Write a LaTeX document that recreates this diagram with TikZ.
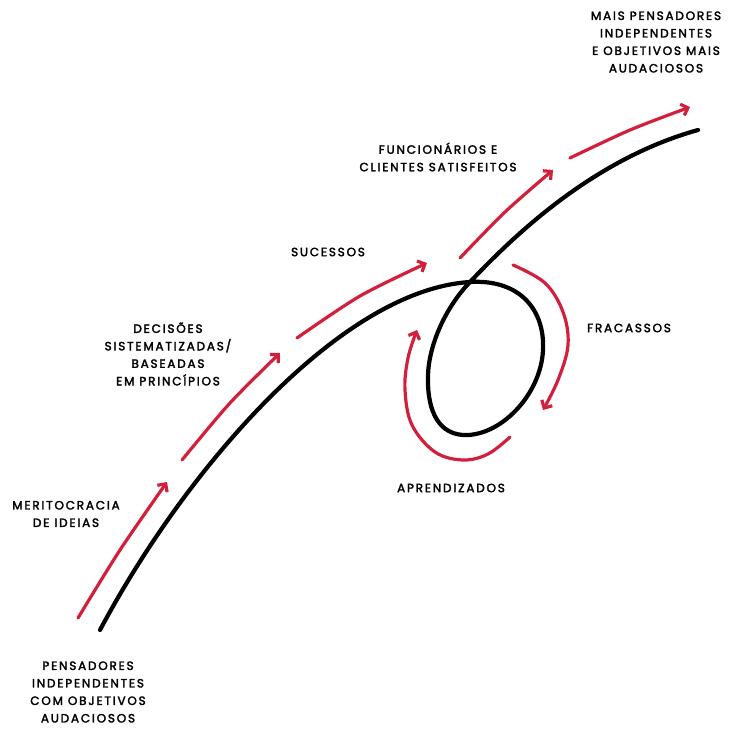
\documentclass[tikz,border=0pt]{standalone}
\usepackage{fontspec}
\setmainfont{Poppins}[LetterSpace=15, FakeBold=2.4]
\usetikzlibrary{arrows.meta}
\definecolor{redline}{HTML}{D21F3C}
\begin{document}
\begin{tikzpicture}[x=1pt,y=-1pt,
  blackline/.style={line width=4.2pt, line cap=round, line join=round},
  redarrow/.style={draw=redline, line width=3.2pt, line cap=round, line join=round,
    -{Straight Barb[length=6pt,width=12pt]}},
  lbl/.style={align=center, font=\fontsize{12}{17.5}\selectfont, inner sep=0pt}]
\useasboundingbox (0,0) rectangle (731,734);

% main black curve with loop
\draw[blackline] (100,630) .. controls (185,470) and (340,290) .. (470,282)
  .. controls (520,279) and (545,310) .. (543,350)
  .. controls (541,395) and (500,437) .. (463,435)
  .. controls (435,433) and (427,405) .. (428,375)
  .. controls (429,345) and (445,308) .. (470,282)
  .. controls (510,240) and (590,160) .. (698,130);

% red arrows along the path
\draw[redarrow] plot[smooth] coordinates {(78,618) (120,550) (167,482)};
\draw[redarrow] plot[smooth] coordinates {(182,460) (230,403) (280,353)};
\draw[redarrow] plot[smooth] coordinates {(297,338) (360,296) (427,263)};
\draw[redarrow] plot[smooth] coordinates {(460,258) (505,212) (553,170)};
\draw[redarrow] plot[smooth] coordinates {(570,158) (630,130) (690,107)};

% loop arrows
\draw[redarrow] plot[smooth, tension=0.6] coordinates {
  (513,265) (545,283) (563,312) (568,345) (558,380) (543,410)};
\draw[redarrow] plot[smooth, tension=0.6] coordinates {
  (510,437) (488,454) (463,460) (435,452) (412,425) (405,390) (408,358) (417,330)};

% labels
\node[lbl] (mais) at (656,42) {MAIS PENSADORES\\INDEPENDENTES\\E OBJETIVOS MAIS\\AUDACIOSOS};
\node[lbl] (func) at (438,157) {FUNCIONÁRIOS E\\CLIENTES SATISFEITOS};
\node[lbl] (suc) at (328,252) {SUCESSOS};
\node[lbl] (dec) at (168,354) {DECISÕES\\SISTEMATIZADAS/\\BASEADAS\\EM PRINCÍPIOS};
\node[lbl] (mer) at (66,514) {MERITOCRACIA\\DE IDEIAS};
\node[lbl] (pens) at (88,692) {PENSADORES\\INDEPENDENTES\\COM OBJETIVOS\\AUDACIOSOS};
\node[lbl] (frac) at (629,328) {FRACASSOS};
\node[lbl] (apr) at (451,488) {APRENDIZADOS};
\end{tikzpicture}
\end{document}
